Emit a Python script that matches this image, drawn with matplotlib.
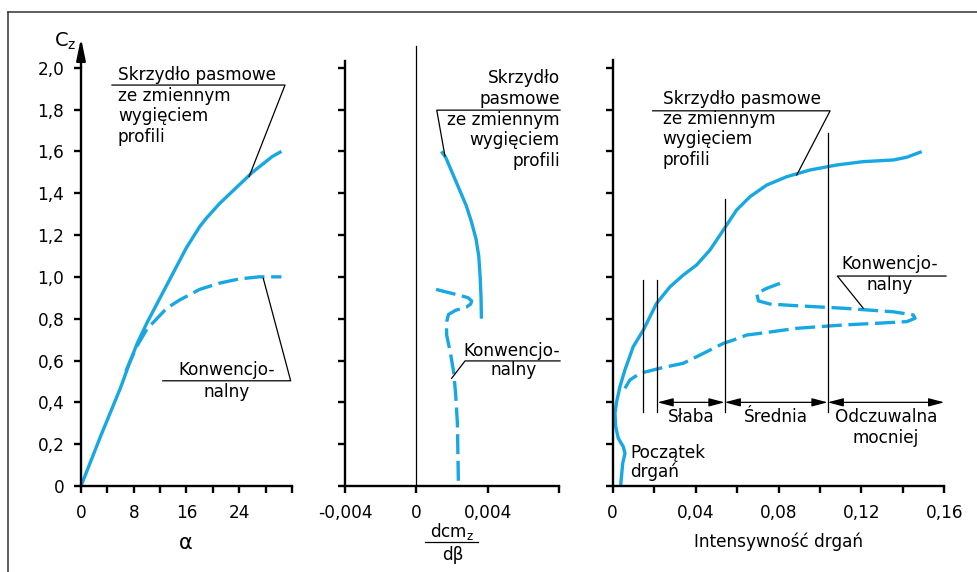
"""
Cz vs alpha, dcmz/dbeta and vibration intensity: banded wing vs conventional wing.
"""

import matplotlib
matplotlib.use('Agg')
import matplotlib.pyplot as plt
from matplotlib.lines import Line2D

plt.rcParams['font.family'] = ['DejaVu Sans']
plt.rcParams['mathtext.default'] = 'regular'

BLUE = '#17A8E3'
FS = 12.2
W, H = 978, 572

# --- data ---
# left panel: Cz(alpha)
alpha_band = [0, 3, 6, 7.5, 8.5, 10, 12, 13.5, 14, 15, 16, 17, 18, 19, 20, 21, 22, 23, 24,
              25, 26, 27, 28, 29, 30.4]
cz_alpha_band = [0, 0.24, 0.47, 0.60, 0.68, 0.78, 0.90, 0.99, 1.02, 1.08, 1.14, 1.19, 1.24,
                 1.28, 1.315, 1.35, 1.38, 1.41, 1.44, 1.47, 1.50, 1.525, 1.55, 1.575, 1.60]
alpha_conv = [6.8, 7.5, 8.5, 10, 11.5, 13, 15, 18, 21, 24, 27, 30.4]
cz_alpha_conv = [0.55, 0.60, 0.67, 0.75, 0.80, 0.85, 0.89, 0.94, 0.97, 0.99, 1.0, 1.0]

# middle panel: Cz(dcmz/dbeta)
dcm_band = [0.0014, 0.00165, 0.0020, 0.0024, 0.0028, 0.0031, 0.00335, 0.0035, 0.00358,
            0.00363, 0.00365]
cz_dcm_band = [1.60, 1.57, 1.50, 1.42, 1.34, 1.26, 1.18, 1.10, 1.00, 0.90, 0.80]
dcm_conv = [0.0011, 0.0018, 0.0025, 0.0029, 0.0031, 0.00305, 0.0028, 0.0022, 0.0018,
            0.00168, 0.0017, 0.0019, 0.0021, 0.0022, 0.0023, 0.00233, 0.00236]
cz_dcm_conv = [0.94, 0.925, 0.91, 0.90, 0.885, 0.87, 0.855, 0.84, 0.82, 0.78, 0.72, 0.64,
               0.54, 0.44, 0.30, 0.15, 0.0]

# right panel: Cz(vibration intensity)
vib_band = [0.00386, 0.00482, 0.00593, 0.0051, 0.0027, 0.00145, 0.0011, 0.0019, 0.0035,
            0.0059, 0.0099, 0.0148, 0.0212, 0.0277, 0.0341, 0.0405, 0.0469, 0.0534, 0.0598,
            0.0662, 0.0743, 0.0840, 0.0952, 0.1081, 0.1209, 0.1354, 0.1419, 0.1491]
cz_vib_band = [0.005, 0.108, 0.156, 0.188, 0.228, 0.284, 0.348, 0.403, 0.475, 0.555, 0.666,
               0.746, 0.874, 0.953, 1.009, 1.057, 1.128, 1.224, 1.320, 1.383, 1.439, 1.479,
               1.511, 1.535, 1.551, 1.559, 1.572, 1.599]
vib_conv = [0.0807, 0.0743, 0.0695, 0.0703, 0.0759, 0.0888, 0.1113, 0.1354, 0.1450, 0.1459,
            0.1419, 0.1274, 0.1113, 0.0888, 0.0711, 0.0647, 0.0582, 0.0534, 0.0421, 0.0341,
            0.0228, 0.0132, 0.0083, 0.0059]
cz_vib_conv = [0.969, 0.945, 0.921, 0.885, 0.870, 0.862, 0.850, 0.833, 0.818, 0.802, 0.786,
               0.778, 0.770, 0.754, 0.730, 0.722, 0.698, 0.682, 0.626, 0.587, 0.563, 0.539,
               0.507, 0.467]

vib_thresholds = [0.0144, 0.0216, 0.054, 0.1037]
threshold_tops = [0.985, 0.985, 1.37, 1.69]
zone_labels = [['Słaba'], ['Średnia'], ['Odczuwalna', 'mocniej']]

cz_ticks = [0, 0.2, 0.4, 0.6, 0.8, 1.0, 1.2, 1.4, 1.6, 1.8, 2.0]
cz_labels = ['0', '0,2', '0,4', '0,6', '0,8', '1,0', '1,2', '1,4', '1,6', '1,8', '2,0']
alpha_ticks = [0, 4, 8, 12, 16, 20, 24, 28, 32]
alpha_labels = ['0', '', '8', '', '16', '', '24', '', '']
dcm_ticks = [-0.004, 0, 0.004, 0.008]
dcm_labels = ['-0,004', '0', '0,004', '']
vib_ticks = [0, 0.02, 0.04, 0.06, 0.08, 0.10, 0.12, 0.14, 0.16]
vib_labels = ['0', '', '0,04', '', '0,08', '', '0,12', '', '0,16']

BAND_TEXT = ['Skrzydło pasmowe', 'ze zmiennym', 'wygięciem', 'profili']


def px_axes(fig, x0, x1, y_top, y_bot):
    """Axes placed by pixel edges of the 978x572 picture."""
    return fig.add_axes([x0 / W, 1 - y_bot / H, (x1 - x0) / W, (y_bot - y_top) / H])


def style_axes(ax, xlim, ylim, xticks, xlabels, yticks, ylabels):
    ax.set_xlim(*xlim)
    ax.set_ylim(*ylim)
    for side in ('top', 'right'):
        ax.spines[side].set_visible(False)
    for side in ('left', 'bottom'):
        ax.spines[side].set_linewidth(1.7)
    ax.set_xticks(xticks)
    ax.set_xticklabels(xlabels)
    ax.set_yticks(yticks)
    ax.set_yticklabels(ylabels)
    ax.tick_params(direction='out', length=5, width=1.7, labelsize=FS)
    ax.tick_params(axis='x', pad=8)
    ax.tick_params(axis='y', pad=7)
    ax.patch.set_alpha(0)


def put_lines(ax, x, y0, lines, step, ha='left'):
    for i, s in enumerate(lines):
        ax.text(x, y0 - i * step, s, ha=ha, va='center', fontsize=FS)


def thin(ax, xs, ys):
    ax.plot(xs, ys, color='black', lw=0.9, clip_on=False)


def curves(ax, xb, yb, xc, yc):
    ax.plot(xb, yb, color=BLUE, lw=2.4, solid_capstyle='butt', solid_joinstyle='round',
            clip_on=False)
    ax.plot(xc, yc, color=BLUE, lw=2.4, dashes=(6, 2), dash_capstyle='butt',
            dash_joinstyle='round', clip_on=False)


fig = plt.figure(figsize=(W / 100, H / 100), dpi=100)

# frame of the original picture
fig.add_artist(Line2D([8 / W, 1], [1 - 12 / H, 1 - 12 / H], color='#333333', lw=1.1))
fig.add_artist(Line2D([8 / W, 8 / W], [0, 1 - 12 / H], color='#333333', lw=1.1))

# ---------- left panel ----------
ax1 = px_axes(fig, 81, 292, 67.7, 486)
style_axes(ax1, (0, 32), (0, 2.0), alpha_ticks, alpha_labels, cz_ticks, cz_labels)
curves(ax1, alpha_band, cz_alpha_band, alpha_conv, cz_alpha_conv)
ax1.annotate('', xy=(0, 1.071), xytext=(0, 1.0), xycoords='axes fraction',
             arrowprops=dict(arrowstyle='-|>,head_length=1.3,head_width=0.27',
                             mutation_scale=10, lw=1.7, color='black',
                             shrinkA=0, shrinkB=0))
fig.text(76 / W, 1 - 41 / H, 'C$_z$', ha='right', va='center', fontsize=14)
fig.text(186 / W, 1 - 543 / H, 'α', ha='center', va='center', fontsize=15)

put_lines(ax1, 5.6, 1.965, BAND_TEXT, 0.098)
thin(ax1, [4.7, 30.94, 25.5], [1.917, 1.917, 1.48])
ax1.text(22.1, 0.555, 'Konwencjo-', ha='center', va='center', fontsize=FS)
ax1.text(22.1, 0.451, 'nalny', ha='center', va='center', fontsize=FS)
thin(ax1, [12.4, 31.8, 27.64], [0.503, 0.503, 0.993])

# ---------- middle panel ----------
ax2 = px_axes(fig, 345.3, 558.8, 61, 486)
style_axes(ax2, (-0.004, 0.008), (0, 2.032), dcm_ticks, dcm_labels, cz_ticks,
           [''] * len(cz_ticks))
thin(ax2, [0, 0], [0, 2.106])
curves(ax2, dcm_band, cz_dcm_band, dcm_conv, cz_dcm_conv)

put_lines(ax2, 0.00807, 1.949, ['Skrzydło', 'pasmowe', 'ze zmiennym', 'wygięciem', 'profili'],
          0.099, ha='right')
thin(ax2, [0.00807, 0.00114, 0.0016], [1.797, 1.797, 1.578])
ax2.text(0.00807, 0.647, 'Konwencjo-', ha='right', va='center', fontsize=FS)
ax2.text(0.00548, 0.556, 'nalny', ha='center', va='center', fontsize=FS)
thin(ax2, [0.00807, 0.00273, 0.00198], [0.598, 0.598, 0.515])

fig.text(451.7 / W, 1 - 531.7 / H, 'dcm$_z$', ha='center', va='center', fontsize=FS)
fig.add_artist(Line2D([425 / W, 478 / W], [1 - 541.7 / H, 1 - 541.7 / H],
                      color='black', lw=0.9))
fig.text(452.5 / W, 1 - 555 / H, 'dβ', ha='center', va='center', fontsize=FS)

# ---------- right panel ----------
ax3 = px_axes(fig, 612.7, 944.3, 60, 486)
style_axes(ax3, (0, 0.16), (0, 2.037), vib_ticks, vib_labels, cz_ticks,
           [''] * len(cz_ticks))
curves(ax3, vib_band, cz_vib_band, vib_conv, cz_vib_conv)

for xv, top in zip(vib_thresholds, threshold_tops):
    thin(ax3, [xv, xv], [0.355, top])

zone_edges = vib_thresholds[1:] + [0.16]
for (xa, xb), label in zip(zip(zone_edges[:-1], zone_edges[1:]), zone_labels):
    ax3.annotate('', xy=(xb, 0.40), xytext=(xa, 0.40),
                 arrowprops=dict(arrowstyle='<|-|>,head_length=0.95,head_width=0.25',
                                 mutation_scale=10, lw=0.9, color='black',
                                 shrinkA=0, shrinkB=0), annotation_clip=False)
    put_lines(ax3, (xa + xb) / 2, 0.331, label, 0.103, ha='center')

ax3.text(0.00835, 0.159, 'Początek', ha='left', va='center', fontsize=FS)
ax3.text(0.00835, 0.068, 'drgań', ha='left', va='center', fontsize=FS)

put_lines(ax3, 0.02413, 1.849, BAND_TEXT, 0.096)
thin(ax3, [0.0193, 0.1049, 0.0888], [1.794, 1.794, 1.487])
ax3.text(0.1105, 1.061, 'Konwencjo-', ha='left', va='center', fontsize=FS)
ax3.text(0.1338, 0.961, 'nalny', ha='center', va='center', fontsize=FS)
thin(ax3, [0.1608, 0.1084, 0.1209], [1.004, 1.004, 0.850])

fig.text(778.3 / W, 1 - 541.7 / H, 'Intensywność drgań', ha='center', va='center',
         fontsize=FS)

fig.savefig('out.png', dpi=100)
